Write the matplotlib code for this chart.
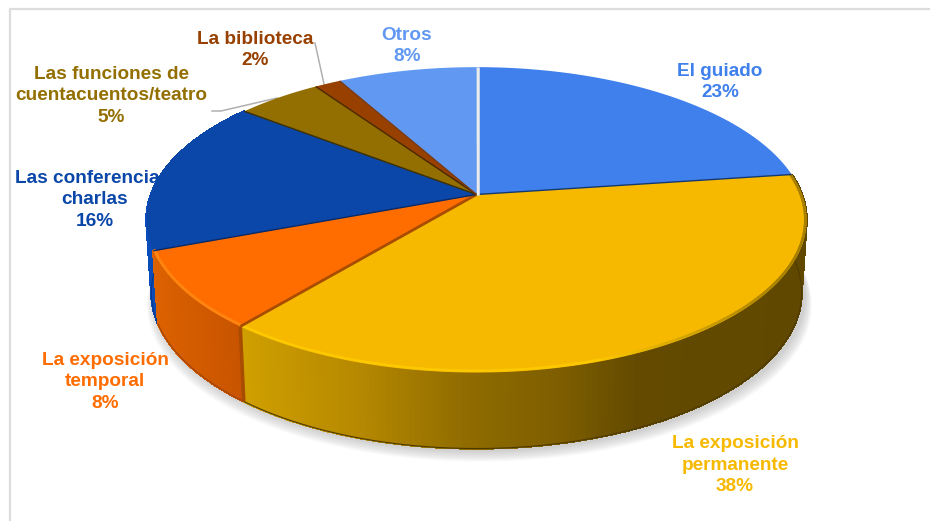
import numpy as np
import matplotlib
matplotlib.use("Agg")
import matplotlib.pyplot as plt
from matplotlib.colors import to_rgb

labels = ["El guiado\n23%", "La exposición\npermanente\n38%", "La exposición\ntemporal\n8%",
          "Las conferencias/\ncharlas\n16%", "Las funciones de\ncuentacuentos/teatro\n5%",
          "La biblioteca\n2%", "Otros\n8%"]
values = [22.8, 38.1, 8.3, 16.4, 4.9, 1.5, 8.0]
colors = ["#4080ec", "#f7b900", "#ff6d00", "#0a47a9", "#936e00", "#974000", "#6198f2"]
label_x = [720, 735, 105, 95, 111, 255, 407]
label_y = [82, 465, 382, 200, 96, 50, 46]
edge_colors = ["#14386e", "#a84c00", "#0a2a66", "#3d2f00", "#4a2800", "#7a3a10", "#e8e8e8"]

cx, cy = 476.5, 194.5
A, B, p = 325.5, 148.5, 0.166

def project(frac):
    t = 2 * np.pi * np.asarray(frac)
    u, v = np.sin(t), np.cos(t)
    s = 1 / (1 + p * v)
    return cx + A * u * s, cy - B * v * s, s

def lower(x, y, s):
    return cx + (x - cx) * 0.985, y + 52 + 20 * s

def mix(c1, c2, k):
    c1, c2 = np.array(to_rgb(c1)), np.array(to_rgb(c2))
    return tuple(c1 + (c2 - c1) * k)

fig, ax = plt.subplots(figsize=(9.3, 5.21), dpi=100)
ax.set_position([0, 0, 1, 1])
ax.set_xlim(0, 930)
ax.set_ylim(521, 0)
ax.axis("off")

# frame
ax.plot([9.5, 9.5, 930], [521, 9, 9], color="#dcdcdc", lw=1.6, zorder=1)

# text goes below the pie, it cuts the conferencias label
for lab, x, y, col in zip(labels, label_x, label_y, colors):
    ax.text(x, y, lab, color=col, ha="center", va="center", fontsize=13.7, fontweight="bold",
            family="Liberation Sans", linespacing=1.35, zorder=2)

# leader lines
ax.plot([315, 324], [43, 84], color="#b0b0b0", lw=1.1, zorder=2)
ax.plot([212, 221, 277], [111, 111, 98], color="#b0b0b0", lw=1.1, zorder=2)

# soft shadow
f = np.linspace(0, 1, 361)
x, y, s = project(f)
xb, yb = lower(x, y, s)
for g in range(14, 0, -1):
    ax.fill(cx + (xb - cx) * (1 + g * 0.0016) + 3, yb + g * 0.8 + 2, color="#808080", alpha=0.028, lw=0, zorder=3)

bounds = np.cumsum([0] + values) / np.sum(values)

# side wall, stops are x position / colour
side_stops = {
    1: ([240, 360, 470, 560, 640, 810], ["#d0a000", "#b58800", "#8f6b00", "#7e5e00", "#634a00", "#604800"]),
    2: ([150, 240], ["#dd6200", "#c85400"]),
    3: ([140, 160], ["#0a50c8", "#0a47a9"]),
}
for i in [3, 2, 1]:
    stop_x, stop_c = side_stops[i]
    stop_rgb = np.array([to_rgb(c) for c in stop_c])
    ff = np.linspace(bounds[i], bounds[i + 1], 160)
    x, y, s = project(ff)
    xb, yb = lower(x, y, s)
    # walk so each strip overlaps the one before, no seams
    order = range(len(ff) - 2, -1, -1)
    for j in order:
        mid = (x[j] + x[j + 1]) / 2
        col = [np.interp(mid, stop_x, stop_rgb[:, k]) for k in range(3)]
        ax.fill([x[j], x[j + 1], xb[j + 1], xb[j]], [y[j], y[j + 1], yb[j + 1], yb[j]],
                color=col, lw=1.0, antialiased=False, zorder=4)
    ax.plot(xb, yb, color=mix(stop_c[-1], "#000000", 0.2), lw=0.8, zorder=4)

# dark edge between orange and yellow on the wall
x, y, s = project(bounds[2])
xb, yb = lower(x, y, s)
ax.plot([x, xb], [y, yb], color="#a84c00", lw=2.6, zorder=5, solid_capstyle="butt")

# top faces
for i in range(len(values)):
    ff = np.linspace(bounds[i], bounds[i + 1], 120)
    x, y, s = project(ff)
    ax.fill(np.r_[cx, x], np.r_[cy, y], color=colors[i], lw=0, zorder=6)

# bevel along the rim of the front slices
for i, c_left, c_right in [(1, "#fcc800", "#a88000"), (2, "#ff8410", "#ff8410")]:
    ff = np.linspace(bounds[i], bounds[i + 1], 200)
    x, y, s = project(ff)
    xi = cx + (x - cx) * 0.996
    yi = cy + (y - cy) * 0.99
    for j in range(len(ff) - 1):
        k = np.clip((x[j] - 600) / 180, 0, 1) if i == 1 else 0
        ax.plot(xi[j:j + 2], yi[j:j + 2], color=mix(c_left, c_right, k), lw=1.8, zorder=7,
                solid_capstyle="round")

# slice edges
for i in range(len(values)):
    x, y, s = project(bounds[i + 1])
    lw = 2.0 if i == 1 else 1.0
    ax.plot([cx, x], [cy, y], color=edge_colors[i], lw=lw, zorder=8, solid_capstyle="butt")
x, y, s = project(0.0)
ax.plot([x + 1, x + 1], [y, cy], color="#ececec", lw=1.8, zorder=9, solid_capstyle="butt")

fig.savefig("out.png", dpi=100, facecolor="white")
